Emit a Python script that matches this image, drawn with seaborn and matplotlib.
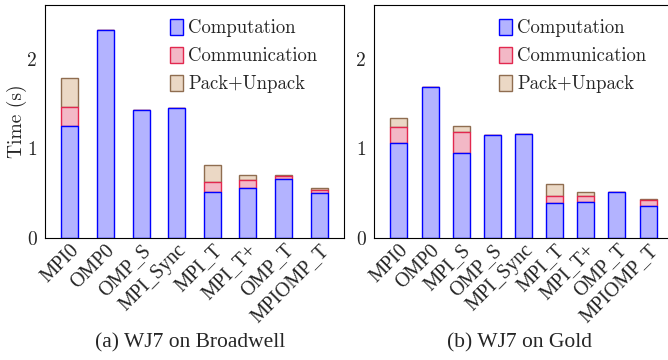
import matplotlib
matplotlib.use("Agg")
import matplotlib.pyplot as plt
import seaborn as sns
import numpy as np

# Per-benchmark timings (seconds), split by phase
bdw_labels = ["MPI0", "OMP0", "OMP_S", "MPI_Sync", "MPI_T", "MPI_T+", "OMP_T", "MPIOMP_T"]
bdw_comp = [1.25, 2.32, 1.43, 1.45, 0.515, 0.555, 0.655, 0.50]
bdw_comm = [0.21, 0.0, 0.0, 0.0, 0.105, 0.09, 0.038, 0.036]
bdw_pack = [0.33, 0.0, 0.0, 0.0, 0.20, 0.055, 0.007, 0.019]

gold_labels = ["MPI0", "OMP0", "MPI_S", "OMP_S", "MPI_Sync", "MPI_T", "MPI_T+", "OMP_T", "MPIOMP_T"]
gold_comp = [1.065, 1.68, 0.945, 1.147, 1.158, 0.387, 0.405, 0.51, 0.357]
gold_comm = [0.172, 0.0, 0.235, 0.0, 0.0, 0.086, 0.064, 0.0, 0.067]
gold_pack = [0.10, 0.0, 0.075, 0.0, 0.0, 0.127, 0.041, 0.0, 0.015]

phase_names = ["Computation", "Communication", "Pack+Unpack"]
captions = ["(a) WJ7 on Broadwell", "(b) WJ7 on Gold"]

FILL = {"Computation": "#b3b3ff", "Communication": "#f3b8c6", "Pack+Unpack": "#ebd8c5"}
EDGE = {"Computation": "#0000ff", "Communication": "#e2284f", "Pack+Unpack": "#8f6d50"}

sns.set_theme(style="white")
plt.rcParams["font.family"] = ["cmr10", "DejaVu Serif"]
plt.rcParams["axes.formatter.use_mathtext"] = True
plt.rcParams["font.size"] = 13.5

TIMES = ["Liberation Serif", "DejaVu Serif"]

fig = plt.figure(figsize=(6.68, 3.6), dpi=100)
ax_w = 299 / 668
ax_b = 1 - 238 / 360
ax_h = 233 / 360
axes = [fig.add_axes([45 / 668, ax_b, ax_w, ax_h]),
        fig.add_axes([374 / 668, ax_b, ax_w, ax_h])]

panels = [
    (bdw_labels, bdw_comp, bdw_comm, bdw_pack, 0.478, 0.7),
    (gold_labels, gold_comp, gold_comm, gold_pack, 0.546, 0.8),
]

for ax, (labels, comp, comm, pack, bw, margin), cap in zip(axes, panels, captions):
    comp = np.asarray(comp, dtype=float)
    comm = np.asarray(comm, dtype=float)
    pack = np.asarray(pack, dtype=float)
    # stacked segments, drawn top segment first so lower edges stay on top
    layers = [("Pack+Unpack", pack, comp + comm),
              ("Communication", comm, comp),
              ("Computation", comp, np.zeros_like(comp))]
    for name, heights, base in layers:
        sns.barplot(x=labels, y=heights, bottom=base, color=FILL[name],
                    edgecolor=EDGE[name], linewidth=1.0, width=bw, saturation=1,
                    ax=ax, label=name)
    n = len(labels)
    ax.set_xlim(-margin, n - 1 + margin)
    ax.set_ylim(0, 2.6)
    ax.set_yticks([0, 1, 2])
    ax.set_yticklabels(["0", "1", "2"])
    ax.tick_params(axis="y", direction="in", length=4, width=0.8, color="#7f7f7f",
                   pad=6, labelsize=14)
    ax.tick_params(axis="x", length=0, pad=2)
    for t in ax.get_xticklabels():
        t.set_rotation(45)
        t.set_ha("right")
        t.set_va("top")
        t.set_rotation_mode("anchor")
        t.set_family(TIMES)
        t.set_fontsize(14.5)
    for s in ax.spines.values():
        s.set_visible(True)
        s.set_color("black")
        s.set_linewidth(0.8)
    ax.set_xlabel("")
    ax.grid(False)

    handles, lbls = ax.get_legend_handles_labels()
    order = [lbls.index(p) for p in phase_names]
    ax.legend([handles[i] for i in order], [lbls[i] for i in order],
              loc="upper left", bbox_to_anchor=(0.417, 0.94), frameon=False,
              borderpad=0, borderaxespad=0, handlelength=0.7, handleheight=0.9,
              handletextpad=0.3, labelspacing=0.52, fontsize=13.5)
    bbox = ax.get_position()
    fig.text(bbox.x0 + bbox.width / 2 - 4 / 668, 1 - 343 / 360, cap, ha="center",
             va="center", family=TIMES, fontsize=15.5)

axes[0].set_ylabel("Time (s)", fontsize=14, labelpad=0)
axes[1].set_ylabel("")

fig.savefig("out.png", dpi=100)
